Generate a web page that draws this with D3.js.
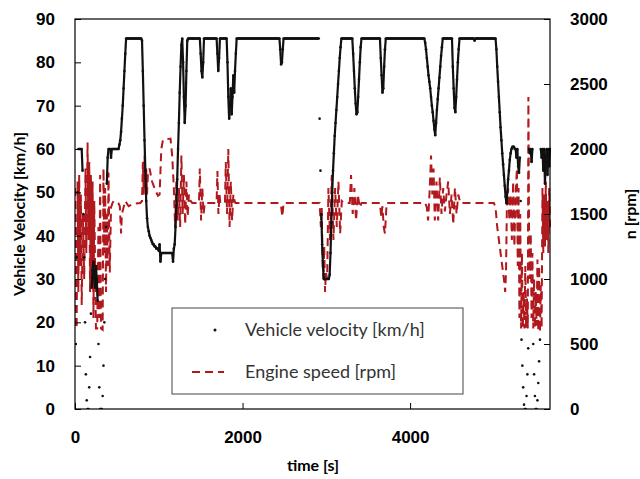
<!DOCTYPE html>
<html>
<head>
    <meta charset="utf-8" />
    <title>Vehicle velocity and engine speed</title>
    <style>
        body {
            margin: 0;
            background: #fff;
            font-family: Lato, "Open Sans", sans-serif;
        }

        .axis .tick text {
            font-size: 17px;
            font-weight: bold;
            fill: #000;
        }

        .axis .tick line {
            stroke: #000;
        }

        .axis-title {
            font-size: 16px;
            font-weight: bold;
            fill: #000;
            text-anchor: middle;
        }

        .legend-label {
            font-size: 18px;
            fill: #333;
        }
    </style>
</head>
<body>
    <script src="https://d3js.org/d3.v7.min.js"></script>
    <script>
        // vehicle velocity, one reading every 10 s
        let sampleStep = 10

        let speedKmh = [
            0, 15, 35, 50, 60, 60, 60, 60, 60, 55,
            45, 35, 20, 8, 2, 0, 0, 5, 12,
            22, 28, 32, 34, 30, 28, 33, 30,
            25, 15, 5, 0, 0, 0, 3, 10, 20, 30,
            42, 52, 58, 60,
            60, 60, 58, 60, 60, 60, 60, 60, 60, 60, 60, 60, 61,
            62, 64, 67, 70, 74, 78, 82, 85.5,
            85.5, 85.5, 85.5, 85.5, 85.5, 85.5, 85.5, 85.5, 85.5, 85.5,
            85.5, 85.5, 85.5, 85.5, 85.5, 85.5, 85.5, 85.5,
            85, 78, 70, 62, 55, 48, 44, 42, 41, 40, 39.5, 39, 38.5, 38, 38, 37.5, 37.5, 37, 37, 37, 36.5,
            38, 34, 36, 36, 36, 36, 36, 36, 36, 36, 36, 36, 36, 36, 36, 36, 34, 37,
            38, 42, 47, 53, 60, 66, 73, 79, 84, 85.5, 80, 72, 66, 70, 78, 85, 85.5,
            85.5, 85.5, 85.5, 85.5, 85.5, 85.5, 85.5, 85.5, 85.5, 85.5,
            85.5, 85.5, 85.5,
            85.5, 82, 78, 76.5, 80, 85.5,
            85.5, 85.5, 85.5, 85.5, 85.5, 85.5, 85.5, 85.5, 85.5, 85.5,
            85.5, 85.5, 85.5, 85.5,
            85.5, 82, 78, 81, 85.5,
            85.5, 85.5, 85.5, 85.5, 85.5, 85.5, 85.5,
            85.5, 80, 72, 67, 70, 74, 68, 72, 77, 73, 78, 82, 85.5,
            85.5, 85.5, 85.5, 85.5, 85.5, 85.5, 85.5, 85.5, 85.5, 85.5,
            85.5, 85.5, 85.5, 85.5, 85.5, 85.5, 85.5, 85.5, 85.5, 85.5,
            85.5, 85.5, 85.5, 85.5, 85.5, 85.5, 85.5, 85.5, 85.5, 85.5,
            85.5, 85.5, 85.5, 85.5, 85.5, 85.5, 85.5, 85.5, 85.5, 85.5,
            85.5, 85.5, 85.5, 85.5, 85.5, 85.5, 85.5, 85.5, 85.5, 85.5,
            85.5,
            83, 79.5, 80, 83, 85.5,
            85.5, 85.5, 85.5, 85.5, 85.5, 85.5, 85.5, 85.5, 85.5, 85.5,
            85.5, 85.5, 85.5, 85.5, 85.5, 85.5, 85.5, 85.5, 85.5, 85.5,
            85.5, 85.5, 85.5, 85.5, 85.5, 85.5, 85.5, 85.5, 85.5, 85.5,
            85.5, 85.5, 85.5, 85.5, 85.5, 85.5, 85.5, 85.5, 85.5, 85.5,
            85.5, 85.5,
            67, 55, 45, 38, 33, 30, 30, 30, 30, 30, 30, 30, 31,
            36, 43, 50, 55, 59, 63, 66, 69, 72, 75, 78, 81, 83.5, 85.5,
            85.5, 85.5, 85.5, 85.5, 85.5, 85.5, 85.5, 85.5, 85.5, 85.5,
            85.5, 85.5, 85.5,
            82, 78, 74, 70.5, 68, 68.5, 72, 76, 80, 83.5, 85.5,
            85.5, 85.5, 85.5, 85.5, 85.5, 85.5, 85.5, 85.5, 85.5, 85.5,
            85.5, 85.5, 85.5, 85.5, 85.5, 85.5, 85.5, 85.5, 85.5, 85.5,
            85.5, 85.5,
            81, 77, 73, 74, 79, 83, 85.5,
            85.5, 85.5, 85.5, 85.5, 85.5, 85.5, 85.5, 85.5, 85.5, 85.5,
            85.5, 85.5, 85.5, 85.5, 85.5, 85.5, 85.5, 85.5, 85.5, 85.5,
            85.5, 85.5, 85.5, 85.5, 85.5, 85.5, 85.5, 85.5, 85.5, 85.5,
            85.5, 85.5, 85.5, 85.5, 85.5, 85.5, 85.5, 85.5, 85.5, 85.5,
            85.5, 85.5, 85.5, 85.5, 85.5, 85.5,
            84.5, 83, 81, 79, 77, 75.5, 74, 72, 70, 68.5, 66.5, 64.5, 63.2,
            66, 69, 71.5, 74, 76.5, 79, 81.5, 83.5, 85.5,
            85.5, 85.5, 85.5, 85.5, 85.5, 85.5, 85.5, 85.5, 85.5, 85.5,
            85.5,
            79, 74, 69.5, 68.5, 72, 76, 80, 83, 85.5,
            85.5, 85.5, 85.5, 85.5, 85.5, 85.5, 85.5, 85.5, 85.5, 85.5,
            85.5, 85.5, 85.5, 85.5, 85.5, 85.5, 85.5, 85, 85.5, 85.5,
            85.5, 85.5, 85.5, 85.5, 85.5, 85.5, 85.5, 85.5, 85.5, 85.5,
            85.5, 85.5, 85.5, 85.5, 85.5, 85.5, 85.5, 85.5, 85.5, 85.5,
            85.5, 85.5, 85.5,
            83, 79, 75.5, 72, 68.5, 65, 62, 59, 56.5, 54, 51.5, 49, 47.5,
            50, 53, 55, 57.5, 59, 60, 60.5,
            60.5, 60.5, 60, 60, 58, 60, 56, 54.5, 58,
            48, 16, 10, 5, 1, 0, 0, 3, 8, 14,
            60, 59, 60, 57, 60,
            15, 8, 3, 0, 0, 2, 6, 11, 16,
            60, 58, 60, 55, 60, 52, 58, 60, 54, 60, 56, 60
        ]

        // engine speed [time s, rpm]
        let engineSpeed = [
            [0, 1700], [8, 620], [20, 640], [30, 1750], [40, 900], [50, 1800], [60, 1100], [70, 1650],
            [80, 800], [95, 1500], [110, 1000], [125, 1850], [135, 1200], [150, 2050], [160, 1300],
            [170, 1900], [180, 900], [190, 1800], [200, 1000], [210, 1750], [220, 700], [230, 1600],
            [240, 1100], [250, 620], [265, 620], [280, 1400], [290, 700], [300, 1800], [310, 620],
            [330, 610], [340, 1850], [350, 1200], [360, 1700], [370, 900], [380, 1500], [390, 1100],
            [400, 1820], [415, 1050], [430, 1550], [445, 1580],
            [460, 1600], [520, 1580], [535, 1560], [550, 1350], [560, 1500], [600, 1600], [640, 1560],
            [700, 1580], [780, 1585],
            [800, 1600], [810, 1900], [820, 1650], [830, 1950], [840, 1700], [850, 1850], [860, 1650], [870, 1800],
            [890, 1850], [920, 1750], [960, 1680], [990, 1640],
            [1010, 1650], [1030, 2000], [1050, 2070], [1140, 2080], [1160, 1950], [1180, 1700],
            [1195, 1400], [1210, 1750], [1225, 1450], [1240, 1700], [1255, 1400], [1270, 1950],
            [1285, 1500], [1300, 1800], [1315, 1420], [1330, 1750], [1345, 1480], [1360, 1650],
            [1380, 1600], [1400, 1585], [1480, 1585],
            [1490, 1850], [1505, 1450], [1520, 1700], [1535, 1500], [1550, 1585],
            [1690, 1585], [1700, 1830], [1712, 1500], [1725, 1650], [1735, 1585],
            [1790, 1585], [1800, 1900], [1815, 1500], [1830, 2000], [1845, 1400], [1860, 1750],
            [1875, 1450], [1890, 1650], [1905, 1600], [1915, 1585],
            [2440, 1585], [2460, 1560], [2475, 1480], [2490, 1585],
            [2920, 1585], [2935, 1400], [2945, 1550], [2955, 1150], [2965, 1000], [2975, 1250], [2985, 900],
            [2995, 1050], [3010, 1000],
            [3025, 1700], [3045, 1300], [3065, 1800], [3085, 1300], [3105, 1700], [3125, 1400],
            [3145, 1750], [3165, 1350], [3185, 1600], [3210, 1585],
            [3280, 1585], [3295, 1800], [3315, 1500], [3335, 1700], [3355, 1450], [3375, 1650],
            [3400, 1550], [3420, 1585],
            [3640, 1585], [3655, 1480], [3670, 1560], [3685, 1400], [3700, 1350], [3720, 1585],
            [4180, 1585], [4200, 1550], [4215, 1450], [4235, 1700], [4250, 1950], [4265, 1650],
            [4280, 1850], [4295, 1450], [4315, 1750], [4335, 1450], [4355, 1780], [4375, 1500],
            [4395, 1700], [4415, 1520], [4435, 1650], [4455, 1750], [4475, 1500], [4495, 1650],
            [4515, 1420], [4535, 1700], [4555, 1500], [4575, 1650], [4600, 1585],
            [5000, 1585], [5020, 1550], [5040, 1400], [5060, 1300], [5080, 1200], [5100, 1100], [5120, 1000],
            [5135, 900], [5145, 1050],
            [5155, 1550], [5170, 1700], [5185, 1450], [5200, 1650],
            [5215, 1300], [5230, 1750], [5245, 1250], [5260, 1650],
            [5275, 1850], [5285, 1100], [5295, 1700], [5305, 700], [5315, 1500], [5325, 620], [5335, 1200],
            [5345, 620], [5355, 900], [5365, 620], [5375, 1100], [5385, 620], [5395, 850], [5405, 620],
            [5412, 2400], [5420, 1400], [5430, 1000],
            [5440, 1350], [5450, 700], [5460, 1200], [5470, 620], [5480, 1000], [5490, 620], [5500, 900], [5510, 640],
            [5520, 1150], [5530, 600], [5540, 1100], [5550, 590], [5560, 950], [5570, 620],
            [5580, 1700], [5590, 1200], [5600, 1650], [5610, 1250], [5620, 1750], [5630, 1300], [5640, 1600],
            [5650, 1200], [5660, 1700], [5670, 1400]
        ]

        let timeTicks = [0, 2000, 4000]
        let speedTicks = [0, 10, 20, 30, 40, 50, 60, 70, 80, 90]
        let rpmTicks = [0, 500, 1000, 1500, 2000, 2500, 3000]

        let margin = { top: 19, right: 90, bottom: 70, left: 75 },
            width = 640 - margin.left - margin.right,
            height = 479 - margin.top - margin.bottom

        let red = '#b0191e'

        let x = d3.scaleLinear().domain([0, 5670]).range([0, width])
        let y = d3.scaleLinear().domain([0, 90]).range([height, 0])
        let y2 = d3.scaleLinear().domain([0, 3000]).range([height, 0])

        let root = d3.select('body')
            .append('svg')
            .attr('width', 640)
            .attr('height', 479)

        let svg = root.append('g')
            .attr('transform', `translate(${margin.left}, ${margin.top})`)

        svg.append('clipPath')
            .attr('id', 'plot-clip')
            .append('rect')
            .attr('x', 0)
            .attr('y', -2)
            .attr('width', width + 1)
            .attr('height', height + 2)

        let plot = svg.append('g').attr('clip-path', 'url(#plot-clip)')

        // engine speed, dashed red
        let engineLine = d3.line()
            .x(function (d) { return x(d[0]) })
            .y(function (d) { return y2(d[1]) })

        plot.append('path')
            .datum(engineSpeed)
            .attr('d', engineLine)
            .attr('fill', 'none')
            .attr('stroke', red)
            .attr('stroke-width', 2)
            .attr('stroke-dasharray', '8,5')

        // vehicle velocity: the logger writes every second, so slow changes
        // while driving read as a solid trace, stop-and-go as loose dots
        let speedPoints = speedKmh.map(function (v, i) { return [i * sampleStep, v] })

        let steadySteps = d3.pairs(speedPoints).filter(function (p) {
            return Math.abs(p[1][1] - p[0][1]) <= 9 && Math.min(p[0][1], p[1][1]) >= 25
        })

        plot.append('g')
            .attr('stroke', '#111')
            .attr('stroke-width', 2.2)
            .selectAll('line')
            .data(steadySteps)
            .enter()
                .append('line')
                .attr('x1', function (d) { return x(d[0][0]) })
                .attr('y1', function (d) { return y(d[0][1]) })
                .attr('x2', function (d) { return x(d[1][0]) })
                .attr('y2', function (d) { return y(d[1][1]) })

        plot.append('g')
            .selectAll('circle')
            .data(speedPoints)
            .enter()
                .append('circle')
                .attr('cx', function (d) { return x(d[0]) })
                .attr('cy', function (d) { return y(d[1]) })
                .attr('r', 1.3)
                .attr('fill', '#111')

        // axes, ticks pointing inwards
        let leftAxis = svg.append('g')
            .attr('class', 'axis')
            .call(d3.axisLeft(y).tickValues(speedTicks).tickFormat(d3.format('d'))
                .tickSizeInner(-6).tickSizeOuter(0).tickPadding(20))
        leftAxis.select('.domain').remove()

        let rightAxis = svg.append('g')
            .attr('class', 'axis')
            .attr('transform', `translate(${width}, 0)`)
            .call(d3.axisRight(y2).tickValues(rpmTicks).tickFormat(d3.format('d'))
                .tickSizeInner(-6).tickSizeOuter(0).tickPadding(20))
        rightAxis.select('.domain').remove()

        let bottomAxis = svg.append('g')
            .attr('class', 'axis')
            .attr('transform', `translate(0, ${height})`)
            .call(d3.axisBottom(x).tickValues(timeTicks).tickFormat(d3.format('d'))
                .tickSizeInner(-6).tickSizeOuter(0).tickPadding(22))
        bottomAxis.select('.domain').remove()

        svg.append('rect')
            .attr('x', 0)
            .attr('y', 0)
            .attr('width', width)
            .attr('height', height)
            .attr('fill', 'none')
            .attr('stroke', '#000')
            .attr('stroke-width', 1.2)

        // axis titles
        root.append('text')
            .attr('class', 'axis-title')
            .attr('transform', `translate(19, ${margin.top + height / 2}) rotate(-90)`)
            .attr('dy', '0.35em')
            .text('Vehicle Velocity [km/h]')

        root.append('text')
            .attr('class', 'axis-title')
            .attr('transform', `translate(630, ${margin.top + height / 2}) rotate(-90)`)
            .attr('dy', '0.35em')
            .text('n [rpm]')

        root.append('text')
            .attr('class', 'axis-title')
            .attr('x', 313)
            .attr('y', 471)
            .text('time [s]')

        // legend
        let legend = root.append('g')

        legend.append('rect')
            .attr('x', 172)
            .attr('y', 308)
            .attr('width', 291)
            .attr('height', 86)
            .attr('fill', '#fff')
            .attr('stroke', '#444')
            .attr('stroke-width', 1)

        legend.append('circle')
            .attr('cx', 215)
            .attr('cy', 330)
            .attr('r', 1.5)
            .attr('fill', '#111')

        legend.append('line')
            .attr('x1', 192)
            .attr('x2', 224)
            .attr('y1', 372)
            .attr('y2', 372)
            .attr('stroke', red)
            .attr('stroke-width', 2)
            .attr('stroke-dasharray', '8,5')

        legend.append('text')
            .attr('class', 'legend-label')
            .attr('x', 245)
            .attr('y', 336)
            .text('Vehicle velocity [km/h]')

        legend.append('text')
            .attr('class', 'legend-label')
            .attr('x', 245)
            .attr('y', 378)
            .text('Engine speed [rpm]')
    </script>
</body>
</html>
